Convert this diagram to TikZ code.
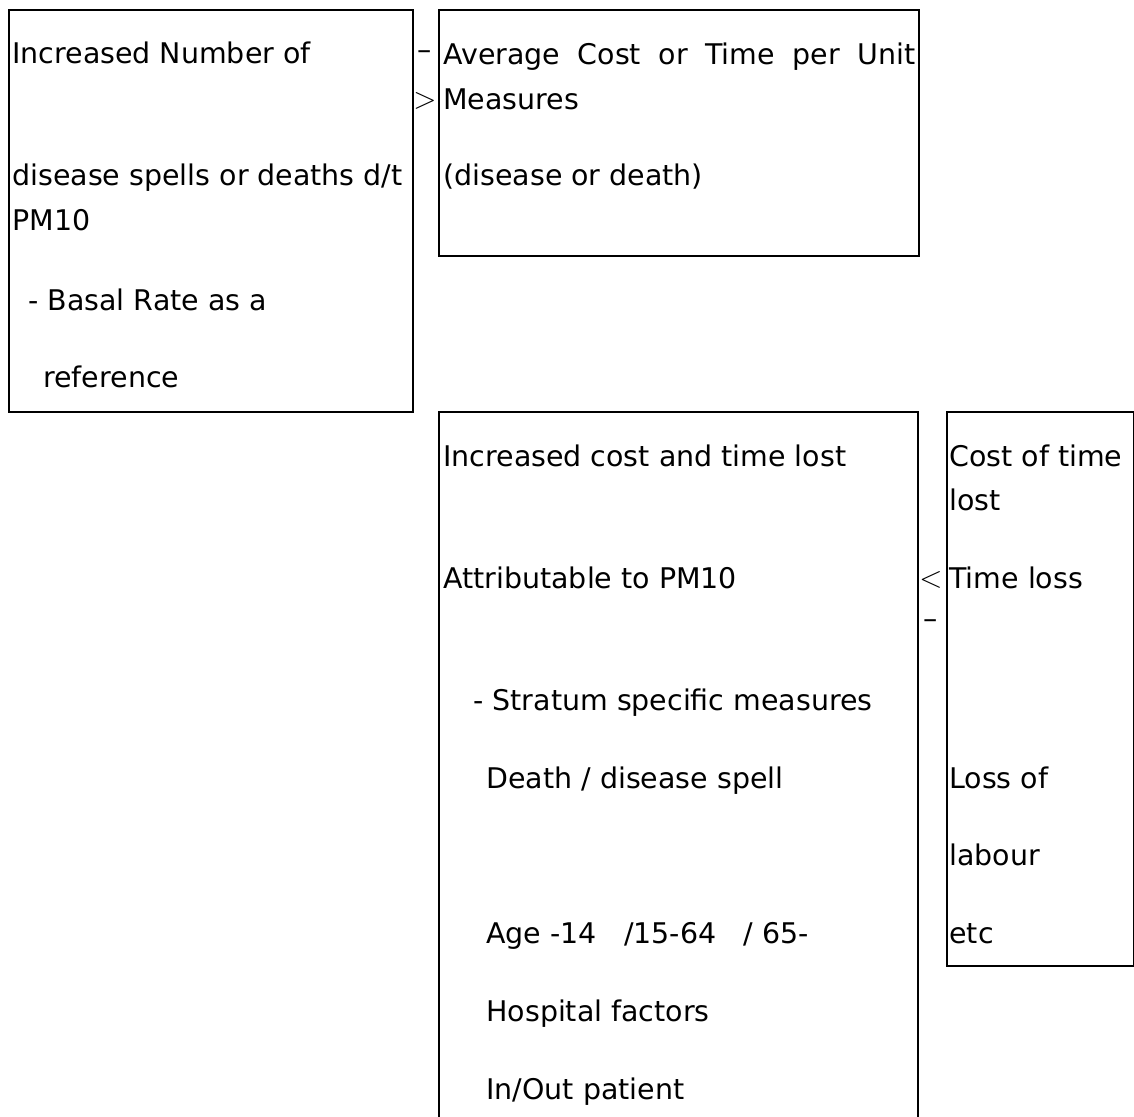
\documentclass[tikz,border=0pt]{standalone}
\usepackage{fontspec}
\setmainfont{DejaVu Sans}
\begin{document}
\begin{tikzpicture}[x=0.02cm,y=-0.02cm,font=\fontsize{16.2}{19}\selectfont,
  box/.style={draw,line width=1.1pt,anchor=north west,inner sep=0pt},
  ln/.style={anchor=base west,inner sep=0pt},
  tip/.style={inner sep=0pt}]
  \useasboundingbox (0,0) rectangle (1134,1117);
  % cases: extra spells or deaths
  \node[box,minimum width=8.08cm,minimum height=8.04cm] (cases) at (8,9) {};
  \node[ln] (casesA) at (12,63) {Increased Number of};
  \node[ln] (casesB) at (12,185) {disease spells or deaths d/t};
  \node[ln] (casesC) at (12,230) {PM10};
  \node[ln] (casesD) at (28,310) {- Basal Rate as a};
  \node[ln] (casesE) at (43,387) {reference};
  % unit cost per case
  \node[box,minimum width=9.6cm,minimum height=4.92cm] (unit) at (438,9) {};
  \node[ln] (unitA) at (443,64) {\makebox[9.44cm][s]{Average Cost or Time per Unit}};
  \node[ln] (unitB) at (443,109) {Measures};
  \node[ln] (unitC) at (443,185) {(disease or death)};
  \node[tip] (toA) at (425,55) {--};
  \node[tip] (toB) at (425,101) {$>$};
  % total loss, box runs off the page
  \node[box,minimum width=9.58cm,minimum height=14.4cm] (loss) at (438,411) {};
  \node[ln] (lossA) at (443,466) {Increased cost and time lost};
  \node[ln] (lossB) at (443,588) {Attributable to PM10};
  \node[ln] (lossC) at (473,710) {- Stratum specific measures};
  \node[ln] (lossD) at (486,788) {Death / disease spell};
  \node[ln] (lossE) at (486,943) {Age -14\ \ \ /15-64\ \ \ / 65-};
  \node[ln] (lossF) at (486,1021) {Hospital factors};
  \node[ln] (lossG) at (486,1099) {In/Out patient};
  % cost of time lost
  \node[box,minimum width=3.74cm,minimum height=11.08cm] (time) at (946,411) {};
  \node[ln] (timeA) at (949,466) {Cost of time};
  \node[ln] (timeB) at (949,510) {lost};
  \node[ln] (timeC) at (949,588) {Time loss};
  \node[ln] (timeD) at (949,788) {Loss of};
  \node[ln] (timeE) at (949,865) {labour};
  \node[ln] (timeF) at (949,943) {etc};
  \node[tip] (backA) at (931,580) {$<$};
  \node[tip] (backB) at (931,624) {--};
\end{tikzpicture}
\end{document}
